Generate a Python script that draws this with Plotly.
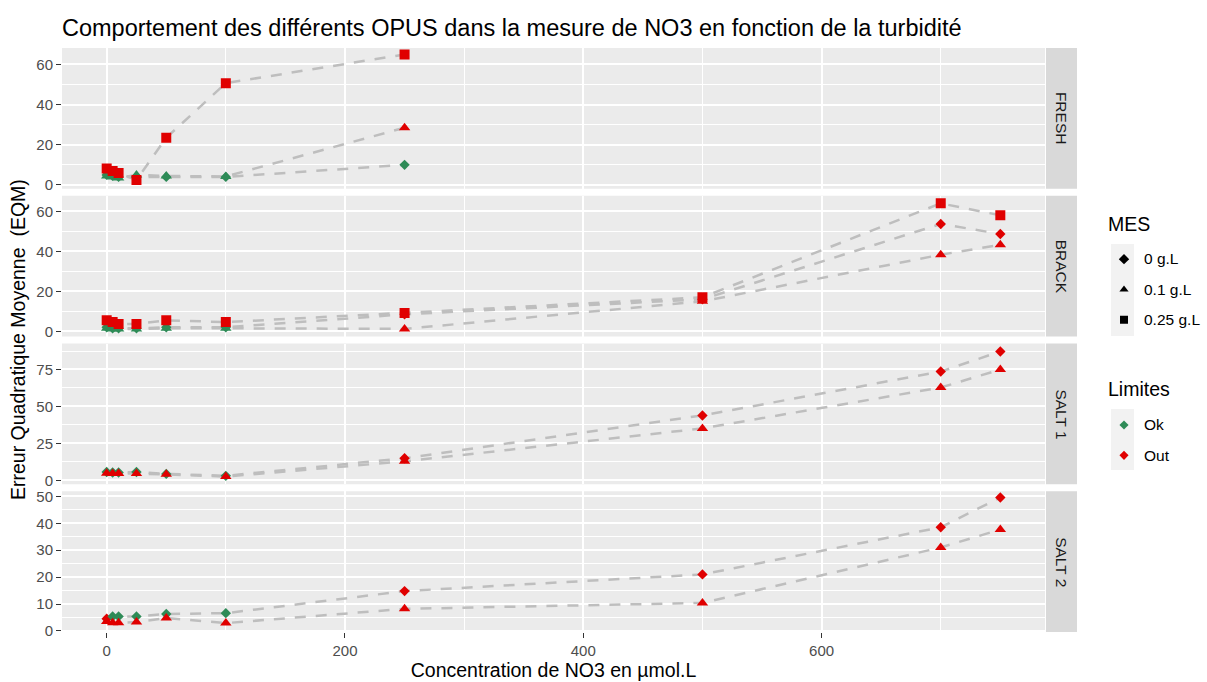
import plotly.graph_objects as go
from plotly.subplots import make_subplots

# ---------------- data ----------------
PANELS = ["FRESH", "BRACK", "SALT 1", "SALT 2"]
MES_LEVELS = ["0 g.L", "0.1 g.L", "0.25 g.L"]
LIMITS = ["Ok", "Out"]

CONC_FRESH = [0, 5, 10, 25, 50, 100, 250]
CONC_ALL = [0, 5, 10, 25, 50, 100, 250, 500, 700, 750]

# FRESH
fresh_mes0 = [5.0, 4.5, 4.0, 4.0, 4.0, 4.0, 10.0]
fresh_mes0_lim = ["Ok", "Ok", "Ok", "Ok", "Ok", "Ok", "Ok"]
fresh_mes01 = [4.5, 4.0, 3.5, 5.0, 4.5, 4.2, 28.5]
fresh_mes01_lim = ["Ok", "Ok", "Ok", "Ok", "Ok", "Ok", "Out"]
fresh_mes025 = [8.2, 7.0, 6.0, 2.5, 23.5, 50.7, 65.0]
fresh_mes025_lim = ["Out", "Out", "Out", "Out", "Out", "Out", "Out"]

# BRACK
brack_mes0 = [2.0, 1.5, 1.5, 1.5, 2.0, 2.0, 8.5, 16.0, 53.7, 48.7]
brack_mes0_lim = ["Ok", "Ok", "Ok", "Ok", "Ok", "Ok", "Out", "Out", "Out", "Out"]
brack_mes01 = [1.5, 1.2, 1.2, 1.2, 1.5, 1.5, 1.2, 15.0, 38.3, 43.3]
brack_mes01_lim = ["Ok", "Ok", "Ok", "Ok", "Ok", "Ok", "Out", "Out", "Out", "Out"]
brack_mes025 = [5.5, 4.7, 3.7, 3.7, 5.5, 4.6, 9.2, 17.0, 64.0, 58.0]
brack_mes025_lim = ["Out", "Out", "Out", "Out", "Out", "Out", "Out", "Out", "Out", "Out"]

# SALT 1
salt1_mes0 = [5.6, 5.3, 5.3, 5.6, 4.3, 3.0, 14.9, 43.9, 73.6, 87.2]
salt1_mes0_lim = ["Ok", "Ok", "Ok", "Ok", "Ok", "Ok", "Out", "Out", "Out", "Out"]
salt1_mes01 = [4.7, 4.5, 4.5, 4.5, 4.0, 2.5, 12.8, 35.1, 62.8, 75.0]
salt1_mes01_lim = ["Out", "Out", "Out", "Out", "Out", "Out", "Out", "Out", "Out", "Out"]

# SALT 2
salt2_mes0 = [4.5, 5.4, 5.4, 5.4, 6.3, 6.6, 14.8, 21.0, 38.5, 49.6]
salt2_mes0_lim = ["Out", "Ok", "Ok", "Ok", "Ok", "Ok", "Out", "Out", "Out", "Out"]
salt2_mes01 = [3.5, 3.0, 3.0, 3.3, 4.8, 2.9, 8.2, 10.4, 31.0, 37.7]
salt2_mes01_lim = ["Out", "Out", "Out", "Out", "Out", "Out", "Out", "Out", "Out", "Out"]

# y-axis ticks per panel
Y_DTICK = [20, 20, 25, 10]
Y_RANGE = [[-1.9, 68.2], [-2.6, 67.8], [-2.7, 92.6], [-0.4, 51.9]]
X_DTICK = 200

# ---------------- styles ----------------
LIMIT_COLORS = {"Ok": "#2e8b57", "Out": "#e00000"}
MES_SYMBOLS = {"0 g.L": "diamond", "0.1 g.L": "triangle-up", "0.25 g.L": "square"}
MES_SIZES = {"0 g.L": 8, "0.1 g.L": 10, "0.25 g.L": 10}
FONT = "Liberation Sans, Arial, sans-serif"
TICK_SIZE = 15
AXTITLE_SIZE = 19.5

panel_series = [
    [("0 g.L", CONC_FRESH, fresh_mes0, fresh_mes0_lim),
     ("0.1 g.L", CONC_FRESH, fresh_mes01, fresh_mes01_lim),
     ("0.25 g.L", CONC_FRESH, fresh_mes025, fresh_mes025_lim)],
    [("0 g.L", CONC_ALL, brack_mes0, brack_mes0_lim),
     ("0.1 g.L", CONC_ALL, brack_mes01, brack_mes01_lim),
     ("0.25 g.L", CONC_ALL, brack_mes025, brack_mes025_lim)],
    [("0 g.L", CONC_ALL, salt1_mes0, salt1_mes0_lim),
     ("0.1 g.L", CONC_ALL, salt1_mes01, salt1_mes01_lim)],
    [("0 g.L", CONC_ALL, salt2_mes0, salt2_mes0_lim),
     ("0.1 g.L", CONC_ALL, salt2_mes01, salt2_mes01_lim)],
]

W, H = 1207, 682
ML, MR, MT, MB = 62, 162, 48, 50
PW = W - ML - MR
PH = H - MT - MB


def px_x(px):
    return (px - ML) / PW


def px_y(py):
    return (H - MB - py) / PH


fig = make_subplots(rows=4, cols=1, shared_xaxes=True, vertical_spacing=7 / PH)

for r, series in enumerate(panel_series, start=1):
    for mes, xs, ys, lims in series:
        fig.add_trace(go.Scatter(
            x=xs, y=ys, mode="lines",
            line=dict(color="#bebebe", width=2.5, dash="11px,10px"),
            showlegend=False, hoverinfo="skip"), row=r, col=1)
    for mes, xs, ys, lims in series:
        fig.add_trace(go.Scatter(
            x=xs, y=ys, mode="markers",
            marker=dict(symbol=MES_SYMBOLS[mes], size=MES_SIZES[mes],
                        color=[LIMIT_COLORS[l] for l in lims], line=dict(width=0)),
            showlegend=False, name=mes), row=r, col=1)

# legend entries
LEG = "<span style='font-size:15.5px;baseline-shift:3px'>%s</span>"
for mes in MES_LEVELS:
    fig.add_trace(go.Scatter(
        x=[None], y=[None], mode="markers", name=LEG % mes,
        marker=dict(symbol=MES_SYMBOLS[mes], size=8, color="black", line=dict(width=0)),
        legendgroup="MES", showlegend=True), row=1, col=1)
for lim in LIMITS:
    fig.add_trace(go.Scatter(
        x=[None], y=[None], mode="markers", name=LEG % lim,
        marker=dict(symbol="diamond", size=7, color=LIMIT_COLORS[lim], line=dict(width=0)),
        legendgroup="Limites", showlegend=True), row=1, col=1)

axis_common = dict(
    showgrid=True, gridcolor="white", gridwidth=1.8, zeroline=False,
    showline=False, ticks="outside", ticklen=5, tickwidth=1, tickcolor="#333333",
    tickfont=dict(family=FONT, size=TICK_SIZE, color="#4d4d4d"),
)

for r in range(1, 5):
    fig.update_yaxes(
        dtick=Y_DTICK[r - 1], tick0=0, range=Y_RANGE[r - 1],
        minor=dict(dtick=Y_DTICK[r - 1] / 2, tick0=0, showgrid=True,
                   gridcolor="white", gridwidth=0.9),
        **axis_common, row=r, col=1)
    fig.update_xaxes(
        dtick=X_DTICK, tick0=0, range=[-37.5, 787.5],
        minor=dict(dtick=X_DTICK / 2, tick0=0, showgrid=True, gridcolor="white", gridwidth=0.9),
        **axis_common, row=r, col=1)
    if r < 4:
        fig.update_xaxes(showticklabels=False, ticks="", row=r, col=1)

fig.update_xaxes(title=dict(text="Concentration de NO3 en µmol.L",
                            font=dict(family=FONT, size=AXTITLE_SIZE, color="black"), standoff=4),
                 row=4, col=1)

shapes = []
annotations = []
for r, name in enumerate(PANELS, start=1):
    yref = "y domain" if r == 1 else "y%d domain" % r
    shapes.append(dict(type="rect", xref="paper", yref=yref,
                       x0=px_x(1046), x1=px_x(1077), y0=0, y1=1,
                       fillcolor="#d9d9d9", line=dict(width=0), layer="below"))
    annotations.append(dict(xref="paper", yref=yref, x=px_x(1061.5), y=0.5,
                            text=name, showarrow=False, textangle=90,
                            font=dict(family=FONT, size=15.5, color="#1a1a1a"),
                            xanchor="center", yanchor="middle"))

# legend key backgrounds
shapes.append(dict(type="rect", xref="paper", yref="paper",
                   x0=px_x(1111), x1=px_x(1134), y0=px_y(336), y1=px_y(244),
                   fillcolor="#f2f2f2", line=dict(width=0), layer="below"))
shapes.append(dict(type="rect", xref="paper", yref="paper",
                   x0=px_x(1111), x1=px_x(1134), y0=px_y(470), y1=px_y(409),
                   fillcolor="#f2f2f2", line=dict(width=0), layer="below"))

# legend titles
annotations.append(dict(xref="paper", yref="paper", x=px_x(1106), y=px_y(224),
                        text="MES", showarrow=False, xanchor="left", yanchor="middle",
                        font=dict(family=FONT, size=AXTITLE_SIZE, color="black")))
annotations.append(dict(xref="paper", yref="paper", x=px_x(1106), y=px_y(389),
                        text="Limites", showarrow=False, xanchor="left", yanchor="middle",
                        font=dict(family=FONT, size=AXTITLE_SIZE, color="black")))

annotations.append(dict(xref="paper", yref="paper", x=px_x(18), y=0.5,
                        text="Erreur Quadratique Moyenne  (EQM)", showarrow=False,
                        textangle=-90, font=dict(family=FONT, size=AXTITLE_SIZE, color="black"),
                        xanchor="center", yanchor="middle"))

fig.update_layout(
    width=W, height=H,
    margin=dict(l=ML, r=MR, t=MT, b=MB, autoexpand=False),
    paper_bgcolor="white", plot_bgcolor="#ebebeb",
    font=dict(family=FONT, color="black"),
    title=dict(text="Comportement des différents OPUS dans la mesure de NO3 en fonction de la turbidité",
               x=ML / W, xanchor="left", y=1 - 28 / H, yanchor="middle",
               font=dict(family=FONT, size=23.5, color="black")),
    shapes=shapes, annotations=annotations,
    legend=dict(x=px_x(1104), y=px_y(239), xanchor="left", yanchor="top",
                font=dict(family=FONT, size=21, color="black"),
                tracegroupgap=75, bgcolor="rgba(0,0,0,0)", itemwidth=30),
    showlegend=True,
)

fig.write_html("out.html")
